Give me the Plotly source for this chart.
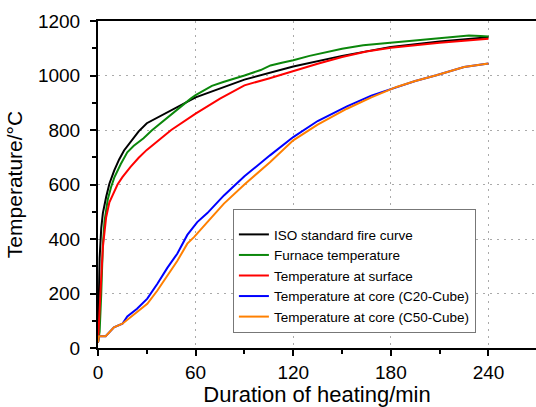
import plotly.graph_objects as go

# ---- data ----
iso_t = [0, 1, 2, 3, 5, 7, 10, 13, 16, 20, 25, 30, 60, 90, 120, 150, 180, 210, 240]
iso_T = [20, 330, 440, 495, 554, 603, 652, 692, 725, 758, 795, 825, 920, 985, 1033, 1072, 1105, 1125, 1140]

furn_t = [0, 1, 2, 3, 4, 5, 6, 8, 10, 14, 18, 22, 28, 33, 38, 43, 48, 53, 57, 60,
          65, 70, 77, 84, 90, 100, 106, 113, 120, 130, 140, 150, 163, 175, 190,
          200, 210, 220, 228, 235, 240]
furn_T = [20, 60, 200, 380, 465, 510, 545, 590, 625, 675, 718, 742, 770, 798, 823,
          848, 872, 895, 915, 928, 946, 962, 976, 988, 1000, 1020, 1037, 1047, 1056,
          1072, 1086, 1098, 1111, 1118, 1127, 1132, 1138, 1143, 1147, 1145, 1143]

surf_t = [0, 1, 2, 3, 5, 7, 9, 12, 15, 20, 25, 30, 45, 60, 75, 90, 105, 120, 135,
          150, 165, 180, 210, 240]
surf_T = [20, 120, 260, 370, 480, 535, 560, 600, 627, 665, 698, 727, 800, 860, 915,
          964, 989, 1017, 1043, 1068, 1088, 1102, 1120, 1135]

c20_t = [0, 0.6, 4.7, 9.8, 15, 18, 24, 30.3, 36.5, 42.6, 48.7, 54.9, 61, 67.2, 77.4,
         90, 105.7, 120, 135, 153, 168, 183.5, 195, 208, 225, 240]
c20_T = [20, 43, 43, 76, 89, 116, 144, 181, 236, 294, 346, 415, 462, 495, 560,
         630, 707, 774, 833, 887, 926, 958, 980, 1001, 1031, 1044]

c50_t = [0, 0.6, 4.7, 9.8, 15, 20, 25.2, 30.3, 36.5, 42.6, 48.7, 54.9, 59, 67.2, 77.4,
         90, 105.7, 120, 135, 153, 168, 183.5, 195, 208, 225, 240]
c50_T = [20, 43, 43, 76, 89, 113, 135, 162, 211, 266, 319, 383, 407, 462, 530,
         600, 682, 762, 820, 878, 920, 958, 980, 1001, 1031, 1044]

names = ["ISO standard fire curve", "Furnace temperature", "Temperature at surface",
         "Temperature at core (C20-Cube)", "Temperature at core (C50-Cube)"]
colors = ["#000000", "#0B870B", "#FF0000", "#0000FF", "#FF8000"]
series = [(iso_t, iso_T), (furn_t, furn_T), (surf_t, surf_T), (c20_t, c20_T), (c50_t, c50_T)]

x_ticks = [0, 60, 120, 180, 240]
y_ticks = [0, 200, 400, 600, 800, 1000, 1200]

FONT = "Liberation Sans, Arial, Helvetica, sans-serif"

fig = go.Figure()
for (t, T), n, c in zip(series, names, colors):
    fig.add_trace(go.Scatter(x=t, y=T, mode="lines", name=n,
                             line=dict(color=c, width=2)))

axis_common = dict(
    showline=True, linecolor="black", linewidth=2,
    ticks="outside", ticklen=6, tickwidth=2, tickcolor="black",
    showgrid=True, gridcolor="#AAAAAA", gridwidth=1, griddash="2px,5px",
    zeroline=False,
    tickfont=dict(family=FONT, size=19, color="black"),
)

fig.update_xaxes(
    range=[0, 269.2], tickvals=x_ticks, ticktext=[str(v) for v in x_ticks],
    minor=dict(dtick=30, tick0=0, ticks="outside", ticklen=4, tickwidth=2,
               tickcolor="black", showgrid=False),
    mirror=True,
    title=dict(text="Duration of heating/min", font=dict(family=FONT, size=22, color="black"),
               standoff=8),
    **axis_common,
)
fig.update_yaxes(
    range=[0, 1200], tickvals=y_ticks, ticktext=[str(v) for v in y_ticks],
    minor=dict(dtick=100, tick0=0, ticks="outside", ticklen=4, tickwidth=2,
               tickcolor="black", showgrid=False),
    ticklabelstandoff=6,
    title=dict(text="Temperature/°C", font=dict(family=FONT, size=21, color="black"),
               standoff=10),
    **axis_common,
)

fig.update_layout(
    width=536, height=407,
    margin=dict(l=98, r=0, t=21, b=59),
    plot_bgcolor="white", paper_bgcolor="white",
    font=dict(family=FONT, color="black"),
    legend=dict(
        x=0.308, y=0.425, xanchor="left", yanchor="top",
        bgcolor="white", bordercolor="#777777", borderwidth=1,
        font=dict(family=FONT, size=13.5, color="black"),
        title=dict(text="\u00a0", font=dict(family=FONT, size=7)),
        tracegroupgap=0,
    ),
    showlegend=True,
)

fig.write_html("out.html")
